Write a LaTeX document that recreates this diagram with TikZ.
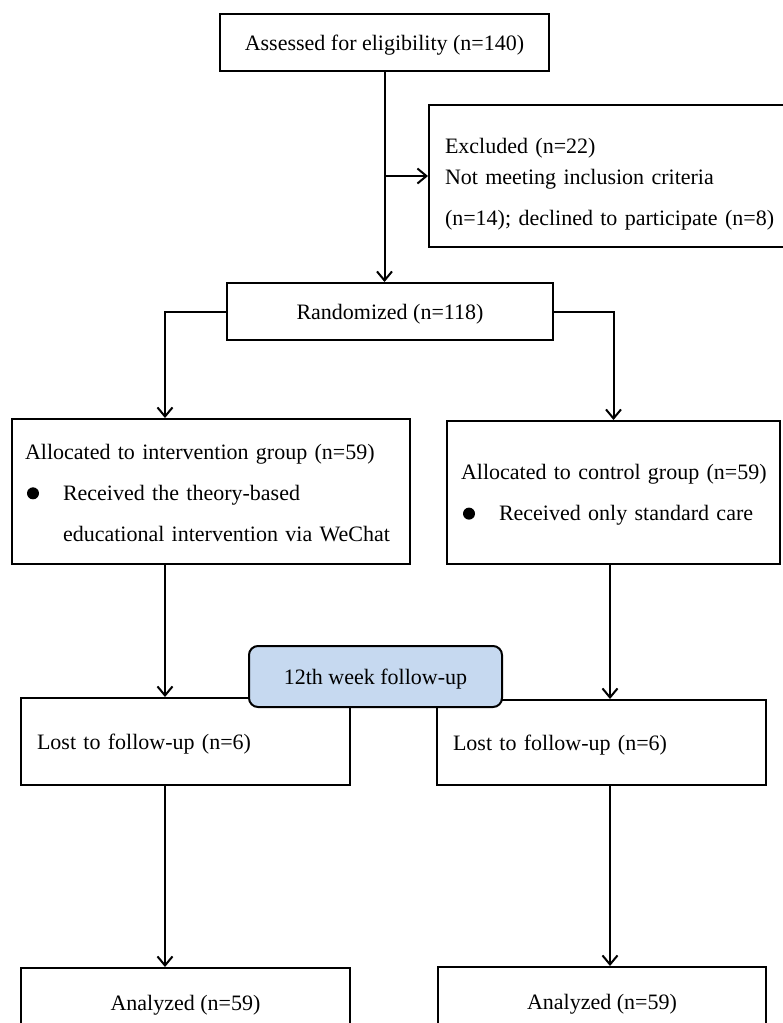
\documentclass[tikz,border=0pt]{standalone}
\usepackage{fontspec}
\setmainfont{Liberation Serif}
\usetikzlibrary{arrows.meta}

\definecolor{followblue}{HTML}{C6D9F0}
\newcommand{\dotmark}{\makebox[38pt][l]{\hspace{2pt}\tikz[baseline=-7pt]\fill (0,0) circle (6pt);}}

\begin{document}
\begin{tikzpicture}[x=1pt, y=-1pt,
    box/.style={draw, line width=2pt, rectangle, inner sep=0pt, font=\fontsize{22}{26}\selectfont},
    onebox/.style={box, text height=18pt, text depth=3pt},
    listbox/.style={box, align=left},
    arr/.style={line width=2pt, -{Straight Barb[length=9pt, width=15pt, line width=2pt]}}]
    \useasboundingbox (0,0) rectangle (783,1023);

    % Draw nodes
    \node[onebox, minimum width=329pt, minimum height=57pt] (assess) at (384.5,42.5) {Assessed for eligibility (n=140)};
    \node[listbox, text width=339pt, inner xsep=16pt, minimum height=142pt] (excl) at (614.5,176) {\rule{0pt}{31pt}Excluded (n=22)\\[5pt] Not meeting inclusion criteria\\[15pt] (n=14); declined to participate (n=8)};
    \node[onebox, minimum width=326pt, minimum height=57pt] (rand) at (390,311.5) {Randomized (n=118)};
    \node[listbox, text width=372pt, inner xsep=13pt, minimum height=145pt] (interv) at (211,491.5) {\rule{0pt}{18pt}Allocated to intervention group (n=59)\\[15pt] \dotmark Received the theory-based\\[15pt] \hspace*{38pt}educational intervention via WeChat};
    \node[listbox, text width=305pt, inner xsep=14pt, minimum height=143pt] (ctrl) at (613.5,492.5) {\rule{0pt}{20pt}\mbox{Allocated to control group (n=59)}\\[15pt] \dotmark Received only standard care};
    \node[listbox, onebox, text width=297pt, inner xsep=16pt, minimum height=87pt] (lostL) at (185.5,741.5) {Lost to follow-up (n=6)};
    \node[listbox, onebox, text width=297pt, inner xsep=16pt, minimum height=85pt] (lostR) at (601.5,742.5) {Lost to follow-up (n=6)};
    \node[onebox, fill=followblue, rounded corners=9pt, minimum width=253pt, minimum height=61pt] (follow) at (375.5,676.5) {12th week follow-up};
    \node[onebox, minimum width=329pt, minimum height=70pt] (anaL) at (185.5,1003) {Analyzed (n=59)};
    \node[onebox, minimum width=328pt, minimum height=70pt] (anaR) at (602,1002) {Analyzed (n=59)};

    \coordinate (lcol) at (165,0);
    \coordinate (rcol) at (610,0);

    % Draw connections
    \draw[arr] (assess.south) -- (assess.south |- rand.north);
    \draw[arr] (assess.south |- excl.west) -- (excl.west);
    \draw[arr] (rand.west) -| (interv.north -| lcol);
    \draw[arr] (rand.east) -| (ctrl.north);
    \draw[arr] (interv.south -| lcol) -- (lostL.north -| lcol);
    \draw[arr] (ctrl.south -| rcol) -- (lostR.north -| rcol);
    \draw[arr] (lostL.south -| lcol) -- (anaL.north -| lcol);
    \draw[arr] (lostR.south -| rcol) -- (anaR.north -| rcol);
\end{tikzpicture}
\end{document}
